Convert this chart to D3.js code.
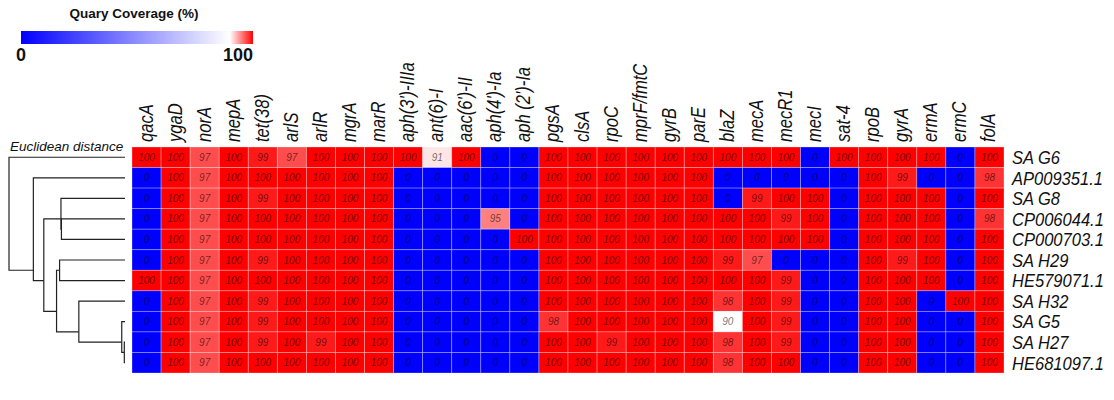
<!DOCTYPE html>
<html>
<head>
<meta charset="utf-8">
<script src="https://cdn.jsdelivr.net/npm/d3@7"></script>
<style>
  html, body { margin: 0; padding: 0; background: #fff; }
  svg { display: block; font-family: "Liberation Sans", Arial, sans-serif; }
</style>
</head>
<body>
<svg id="chart" width="1114" height="400"></svg>
<script>
// Genes (columns) and strains (rows, in dendrogram order)
const genes = ["qacA", "ygaD", "norA", "mepA", "tet(38)", "arlS", "arlR", "mgrA", "marR",
  "aph(3')-IIIa", "ant(6)-I", "aac(6')-II", "aph(4')-Ia", "aph (2')-Ia", "pgsA", "clsA", "rpoC",
  "mprF/fmtC", "gyrB", "parE", "blaZ", "mecA", "mecR1", "mecI", "sat-4", "rpoB", "gyrA",
  "ermA", "ermC", "folA"];

const strains = ["SA G6", "AP009351.1", "SA G8", "CP006044.1", "CP000703.1", "SA H29",
  "HE579071.1", "SA H32", "SA G5", "SA H27", "HE681097.1"];

// Query coverage (%) per strain, one value per gene
const coverage = [
  [100,100,97,100, 99, 97,100,100,100,100, 91,100,  0,  0,100,100,100,100,100,100,100,100,100,  0,100,100,100,100,  0,100],
  [  0,100,97,100,100,100,100,100,100,  0,  0,  0,  0,  0,100,100,100,100,100,100,  0,  0,  0,  0,  0,100, 99,  0,  0, 98],
  [  0,100,97,100, 99,100,100,100,100,  0,  0,  0,  0,  0,100,100,100,100,100,100,  0, 99,100,100,  0,100,100,100,  0,100],
  [  0,100,97,100,100,100,100,100,100,  0,  0,  0, 95,  0,100,100,100,100,100,100,100,100, 99,100,  0,100,100,100,  0, 98],
  [  0,100,97,100,100,100,100,100,100,  0,  0,  0,  0,100,100,100,100,100,100,100,100,100,100,100,  0,100,100,100,  0,100],
  [  0,100,97,100, 99,100,100,100,100,  0,  0,  0,  0,  0,100,100,100,100,100,100, 99, 97,  0,  0,  0,100, 99,100,  0,100],
  [100,100,97,100,100,100,100,100,100,  0,  0,  0,  0,  0,100,100,100,100,100,100,100,100, 99,  0,  0,100,100,100,  0,100],
  [  0,100,97,100, 99,100,100,100,100,  0,  0,  0,  0,  0,100,100,100,100,100,100, 98,100, 99,  0,  0,100,100,  0,100,100],
  [  0,100,97,100, 99,100,100,100,100,  0,  0,  0,  0,  0, 98,100,100,100,100,100, 90,100, 99,  0,  0,100,100,  0,  0,100],
  [  0,100,97,100, 99,100, 99,100,100,  0,  0,  0,  0,  0,100,100, 99,100,100,100, 98,100, 99,  0,  0,100,100,  0,  0,100],
  [  0,100,97,100,100,100,100,100,100,  0,  0,  0,  0,  0,100,100,100,100,100,100, 98,100,100,  0,  0,100,100,  0,  0,100]
];

// Hierarchical clustering of strains: [left, right, height]
// negative = leaf (-(row index + 1)), positive = earlier merge step (1-based)
const merges = [
  [-10, -11,   3],
  [ -9,   1,  14],
  [ -8,   2, 199],
  [ -6,  -7, 282],
  [  4,   3, 295],
  [ -4,  -5, 274],
  [ -3,   6, 276],
  [  7,   5, 350],
  [ -2,   8, 395],
  [ -1,   9, 500]
];

const legendTicks = [0, 100];

const svg = d3.select("#chart");

const x = d3.scaleBand().domain(genes).range([132, 1004]);
const y = d3.scaleBand().domain(strains).range([147, 373]);
const color = d3.scaleLinear().domain([0, 90, 100]).range(["#0000ff", "#ffffff", "#ff0000"]);

// ---- heatmap cells ----
const cells = [];
coverage.forEach((row, i) => row.forEach((v, j) => cells.push({ s: strains[i], g: genes[j], v })));

svg.append("g").selectAll("rect").data(cells).join("rect")
  .attr("x", d => x(d.g))
  .attr("y", d => y(d.s))
  .attr("width", x.bandwidth())
  .attr("height", y.bandwidth())
  .attr("fill", d => color(d.v))
  .attr("stroke", "rgba(255,255,255,0.35)")
  .attr("stroke-width", 0.8);

svg.append("g").selectAll("text").data(cells).join("text")
  .attr("x", d => x(d.g) + x.bandwidth() / 2)
  .attr("y", d => y(d.s) + y.bandwidth() / 2)
  .attr("dy", "0.35em")
  .attr("text-anchor", "middle")
  .attr("font-size", 10)
  .attr("font-style", "italic")
  .attr("fill", "#000")
  .attr("fill-opacity", 0.58)
  .text(d => d.v);

// ---- column labels (condensed italic, reading upward) ----
svg.append("g").selectAll("text").data(genes).join("text")
  .attr("transform", d => `translate(${x(d) + x.bandwidth() / 2 + 6},142) rotate(-90) scale(0.83,1)`)
  .attr("font-size", 20)
  .attr("font-style", "italic")
  .attr("fill", "#111")
  .text(d => d);

// ---- row labels ----
svg.append("g").selectAll("text").data(strains).join("text")
  .attr("transform", d => `translate(1012,${y(d) + y.bandwidth() / 2}) scale(0.87,1)`)
  .attr("dy", "0.36em")
  .attr("font-size", 19)
  .attr("font-style", "italic")
  .attr("fill", "#111")
  .text(d => d);

// ---- dendrogram ----
const maxH = d3.max(merges, m => m[2]);
const xd = d3.scaleLinear().domain([0, maxH]).range([125, 9]);
const nodes = [];
function nodeInfo(id) {
  if (id < 0) {
    const s = strains[-id - 1];
    const cy = y(s) + y.bandwidth() / 2;
    return { x: xd(0), y: cy, leaves: [cy] };
  }
  return nodes[id - 1];
}
const dg = svg.append("g").attr("stroke", "#222").attr("stroke-width", 1.2).attr("fill", "none");
merges.forEach(([a, b, h]) => {
  const A = nodeInfo(a), B = nodeInfo(b);
  const leaves = A.leaves.concat(B.leaves);
  const nx = xd(h);
  dg.append("path").attr("d", `M${A.x},${A.y}H${nx}V${B.y}H${B.x}`);
  nodes.push({ x: nx, y: d3.mean(leaves), leaves });
});

svg.append("text")
  .attr("x", 10).attr("y", 151)
  .attr("font-size", 13.5)
  .attr("font-style", "italic")
  .attr("fill", "#111")
  .text("Euclidean distance");

// ---- legend ----
const lx = d3.scaleLinear().domain([0, 100]).range([21, 253]);
const defs = svg.append("defs");
const grad = defs.append("linearGradient").attr("id", "cov-grad");
d3.range(0, 101, 5).forEach(v => grad.append("stop")
  .attr("offset", `${v}%`).attr("stop-color", color(v)));

svg.append("rect")
  .attr("x", lx(0)).attr("y", 31)
  .attr("width", lx(100) - lx(0)).attr("height", 13)
  .attr("fill", "url(#cov-grad)");

svg.append("text")
  .attr("x", (lx(0) + lx(100)) / 2 - 3).attr("y", 18)
  .attr("text-anchor", "middle")
  .attr("font-size", 13.5)
  .attr("font-weight", "bold")
  .attr("fill", "#111")
  .text("Quary Coverage (%)");

svg.append("g").selectAll("text").data(legendTicks).join("text")
  .attr("x", d => lx(d))
  .attr("y", 61)
  .attr("text-anchor", (d, i) => i === 0 ? "middle" : "end")
  .attr("font-size", 18)
  .attr("font-weight", "bold")
  .attr("fill", "#111")
  .text(d => d);
</script>
</body>
</html>
